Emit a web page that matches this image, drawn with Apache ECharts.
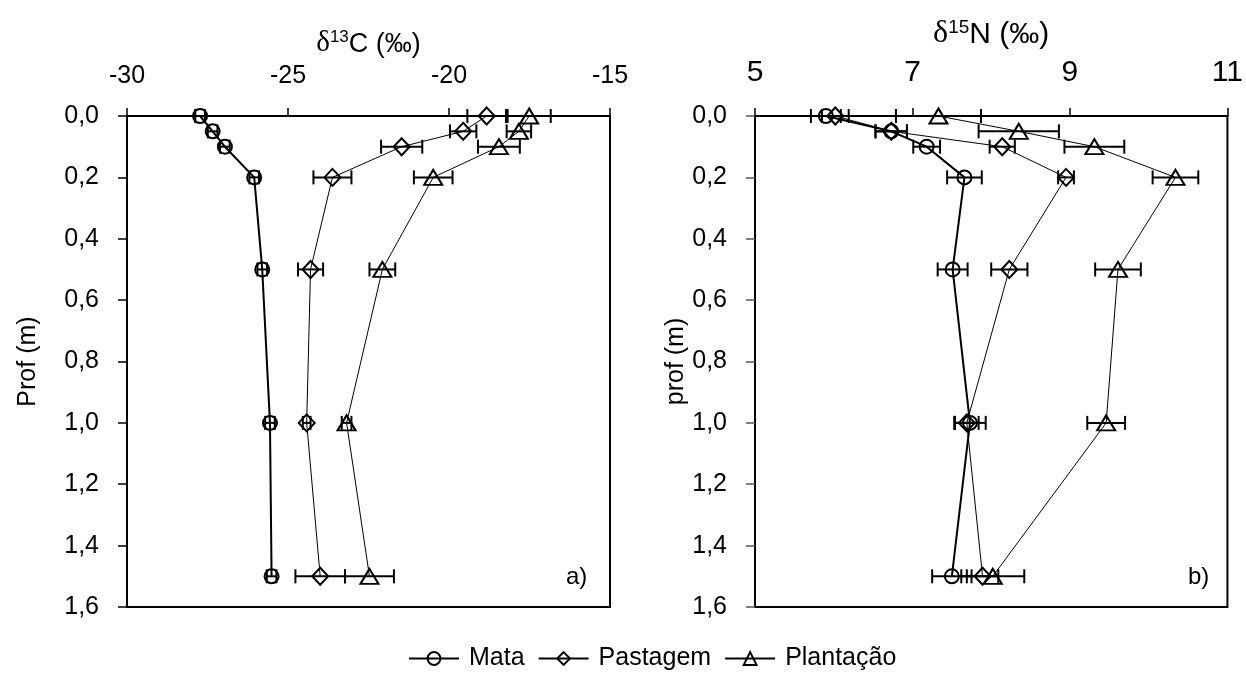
<!DOCTYPE html>
<html>
<head>
<meta charset="utf-8">
<script src="https://cdn.jsdelivr.net/npm/echarts@6/dist/echarts.min.js"></script>
<style>
html,body{margin:0;padding:0;background:#fff;}
#chart{width:1246px;height:675px;}
</style>
</head>
<body>
<div id="chart"></div>
<script>
// ---- data ----
const depths = [0.0, 0.05, 0.1, 0.2, 0.5, 1.0, 1.5];
const seriesNames = ['Mata', 'Pastagem', 'Plantação'];
// delta 13C (per mil)
const c13Mata = [-27.73, -27.34, -26.96, -26.05, -25.80, -25.56, -25.51];
const c13MataErr = [0.15, 0.15, 0.15, 0.15, 0.15, 0.15, 0.15];
const c13Pastagem = [-18.83, -19.56, -21.47, -23.62, -24.30, -24.42, -24.00];
const c13PastagemErr = [0.60, 0.41, 0.64, 0.59, 0.39, 0.12, 0.77];
const c13Plantacao = [-17.51, -17.83, -18.45, -20.49, -22.07, -23.18, -22.47];
const c13PlantacaoErr = [0.67, 0.38, 0.65, 0.60, 0.40, 0.15, 0.76];
// delta 15N (per mil)
const n15Mata = [5.90, 6.73, 7.18, 7.66, 7.51, 7.73, 7.50];
const n15MataErr = [0.19, 0.20, 0.17, 0.22, 0.19, 0.20, 0.25];
const n15Pastagem = [6.02, 6.73, 8.14, 8.95, 8.23, 7.69, 7.89];
const n15PastagemErr = [0.17, 0.20, 0.16, 0.10, 0.23, 0.15, 0.20];
const n15Plantacao = [7.33, 8.35, 9.31, 10.34, 9.61, 9.46, 8.02];
const n15PlantacaoErr = [0.54, 0.51, 0.38, 0.29, 0.29, 0.24, 0.40];
// axes
const c13Min = -30, c13Max = -15, c13Step = 5;
const n15Min = 5, n15Max = 11, n15Ticks = [5, 7, 9, 11];
const depthMin = 0, depthMax = 1.6, depthStep = 0.2;

// ---- helpers ----
const FONT = 'Liberation Sans, Arial, sans-serif';
const symbols = ['circle', 'diamond', 'triangle'];
const symbolSizes = [14, [16, 17], [18, 15]];
const lineWidths = [2, 1, 1];

function pairs(vals) { return vals.map((v, i) => [v, depths[i]]); }
function errData(vals, errs) { return vals.map((v, i) => [v, depths[i], v - errs[i], v + errs[i]]); }

function errRender(params, api) {
  const y = api.value(1);
  const p1 = api.coord([api.value(2), y]);
  const p2 = api.coord([api.value(3), y]);
  const h = 7;
  const st = { stroke: '#000', lineWidth: 2 };
  return {
    type: 'group',
    children: [
      { type: 'line', shape: { x1: p1[0], y1: p1[1], x2: p2[0], y2: p2[1] }, style: st },
      { type: 'line', shape: { x1: p1[0], y1: p1[1] - h, x2: p1[0], y2: p1[1] + h }, style: st },
      { type: 'line', shape: { x1: p2[0], y1: p2[1] - h, x2: p2[0], y2: p2[1] + h }, style: st }
    ]
  };
}

function lineSeries(idx, vals, axisIdx) {
  return {
    type: 'line', name: seriesNames[idx], xAxisIndex: axisIdx, yAxisIndex: axisIdx,
    data: pairs(vals), symbol: symbols[idx], symbolSize: symbolSizes[idx], showAllSymbol: true,
    color: '#000',
    lineStyle: { color: '#000', width: lineWidths[idx] },
    itemStyle: { color: 'rgba(255,255,255,0)', borderColor: '#000', borderWidth: 2 },
    emphasis: { disabled: true }, animation: false, z: 3
  };
}
function errSeries(idx, vals, errs, axisIdx) {
  return {
    type: 'custom', name: seriesNames[idx] + ' erro', xAxisIndex: axisIdx, yAxisIndex: axisIdx,
    data: errData(vals, errs), encode: { x: 0, y: 1 }, renderItem: errRender,
    animation: false, z: 2, silent: true
  };
}

function depthAxis(gridIdx, name, tickColor) {
  return {
    type: 'value', gridIndex: gridIdx, inverse: true, min: depthMin, max: depthMax, interval: depthStep,
    name: name, nameLocation: 'middle', nameGap: gridIdx === 0 ? 86 : 54, nameRotate: 90,
    nameTextStyle: { fontFamily: FONT, fontSize: 25, color: '#000' },
    axisLine: { show: true, lineStyle: { color: '#000', width: 2 } },
    axisTick: { show: true, length: 9, lineStyle: { color: tickColor, width: 1.5 } },
    axisLabel: { fontFamily: FONT, fontSize: 25, color: '#000', margin: 28,
      formatter: v => v.toFixed(1).replace('.', ',') },
    splitLine: { show: false }
  };
}

const option = {
  backgroundColor: '#fff',
  animation: false,
  grid: [
    { left: 127, top: 116, width: 483, height: 491, show: true, borderColor: '#000', borderWidth: 2, containLabel: false },
    { left: 755, top: 116, width: 473, height: 491, show: true, borderColor: '#000', borderWidth: 2, containLabel: false }
  ],
  xAxis: [
    {
      type: 'value', gridIndex: 0, position: 'top', min: c13Min, max: c13Max, interval: c13Step,
      name: '{d|δ}{s|13}{n|C (‰)}', nameLocation: 'middle', nameGap: 58,
      nameTextStyle: { rich: {
        d: { fontFamily: 'Liberation Serif, serif', fontSize: 29, color: '#000', verticalAlign: 'bottom' },
        s: { fontFamily: FONT, fontSize: 17, color: '#000', verticalAlign: 'top' },
        n: { fontFamily: FONT, fontSize: 27, color: '#000', verticalAlign: 'bottom' }
      } },
      axisLine: { show: true, lineStyle: { color: '#000', width: 2 } },
      axisTick: { show: true, length: 8, lineStyle: { color: '#000', width: 1.5 } },
      axisLabel: { fontFamily: FONT, fontSize: 25, color: '#000', margin: 27 },
      splitLine: { show: false }
    },
    {
      type: 'value', gridIndex: 1, position: 'top', min: n15Min, max: n15Max, interval: 1,
      name: '{d|δ}{s|15}{n|N (‰)}', nameLocation: 'middle', nameGap: 66,
      nameTextStyle: { rich: {
        d: { fontFamily: 'Liberation Serif, serif', fontSize: 32, color: '#000', verticalAlign: 'bottom' },
        s: { fontFamily: FONT, fontSize: 19, color: '#000', verticalAlign: 'top' },
        n: { fontFamily: FONT, fontSize: 30, color: '#000', verticalAlign: 'bottom' }
      } },
      axisLine: { show: true, lineStyle: { color: '#000', width: 2 } },
      axisTick: { show: true, length: 8, customValues: n15Ticks, lineStyle: { color: '#000', width: 1.5 } },
      axisLabel: { fontFamily: FONT, fontSize: 30, color: '#000', margin: 28, customValues: n15Ticks },
      splitLine: { show: false }
    }
  ],
  yAxis: [ depthAxis(0, 'Prof (m)', '#000'), depthAxis(1, 'prof (m)', '#555') ],
  legend: {
    data: seriesNames, left: 403, top: 641, itemWidth: 50, itemHeight: 16, itemGap: 13,
    textStyle: { fontFamily: FONT, fontSize: 25, color: '#000', padding: [0, 0, 0, 5] },
    selectedMode: false
  },
  graphic: [
    { type: 'text', left: 566, top: 565, style: { text: 'a)', font: '24px ' + FONT, fill: '#000' } },
    { type: 'text', left: 1188, top: 565, style: { text: 'b)', font: '24px ' + FONT, fill: '#000' } }
  ],
  series: [
    errSeries(0, c13Mata, c13MataErr, 0),
    errSeries(1, c13Pastagem, c13PastagemErr, 0),
    errSeries(2, c13Plantacao, c13PlantacaoErr, 0),
    lineSeries(0, c13Mata, 0),
    lineSeries(1, c13Pastagem, 0),
    lineSeries(2, c13Plantacao, 0),
    errSeries(0, n15Mata, n15MataErr, 1),
    errSeries(1, n15Pastagem, n15PastagemErr, 1),
    errSeries(2, n15Plantacao, n15PlantacaoErr, 1),
    lineSeries(0, n15Mata, 1),
    lineSeries(1, n15Pastagem, 1),
    lineSeries(2, n15Plantacao, 1)
  ]
};

const chart = echarts.init(document.getElementById('chart'), null, { renderer: 'canvas' });
chart.setOption(option);
</script>
</body>
</html>
